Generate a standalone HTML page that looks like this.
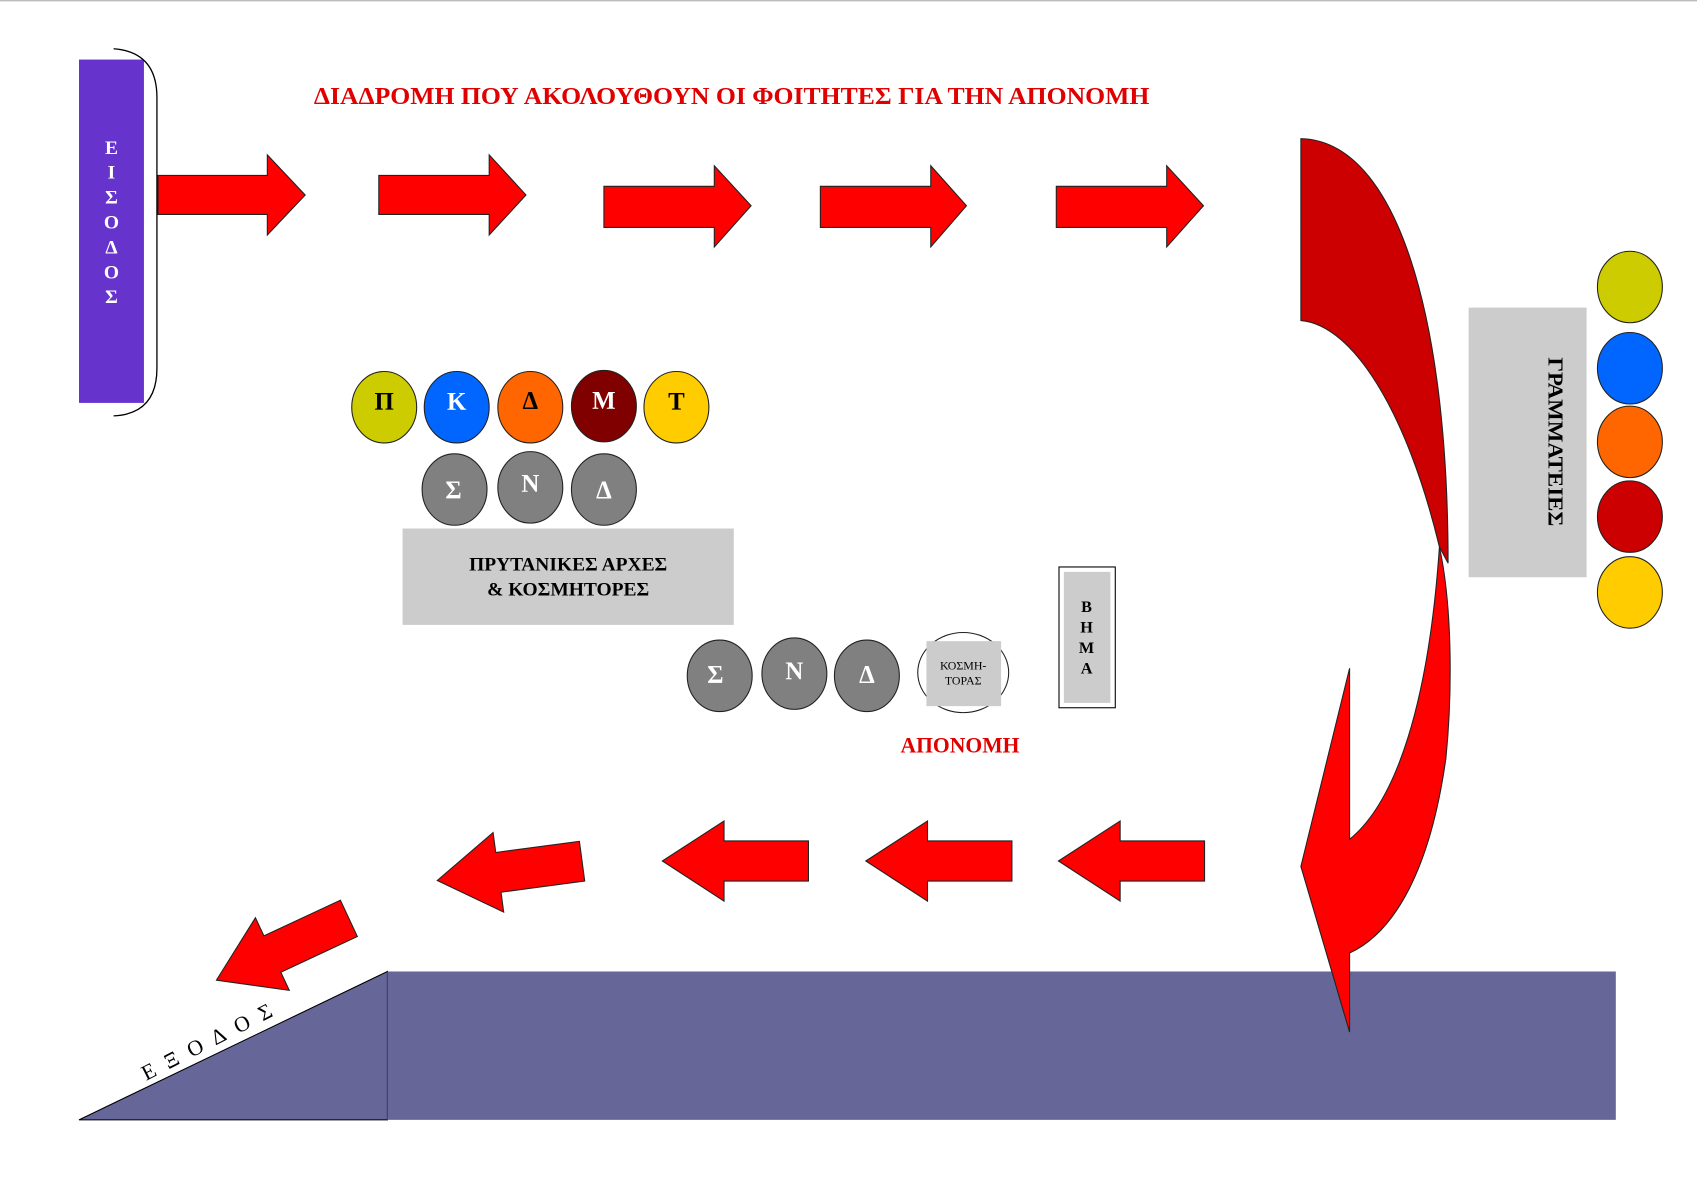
<!DOCTYPE html>
<html><head><meta charset="utf-8"><style>
html,body{margin:0;padding:0;background:#fff;}
svg{display:block;}
text{font-family:"Liberation Serif","DejaVu Serif",serif;font-weight:bold;}
</style></head><body>
<svg width="1697" height="1200" viewBox="0 0 1568 1108" xmlns="http://www.w3.org/2000/svg" preserveAspectRatio="none">
<defs>
<path id="la" d="M0,0 L57,-37 L57,-18.5 L135,-18.5 L135,18.5 L57,18.5 L57,37 Z"/>
</defs>
<line x1="0" y1="0.5" x2="1568" y2="0.5" stroke="#bbb" stroke-width="1.5"/>
<!-- floor -->
<rect x="358" y="897" width="1135" height="137" fill="#666699"/>
<path d="M73,1034 L358,897 L358,1034 Z" fill="#666699" stroke="#000" stroke-width="1"/>
<line x1="358" y1="897" x2="358" y2="1034" stroke="#555" stroke-width="0.8"/>
<text transform="translate(135,998) rotate(-27)" font-size="20" fill="#000" style="font-weight:normal" letter-spacing="11">ΕΞΟΔΟΣ</text>
<!-- entrance -->
<rect x="73" y="55" width="60" height="317" fill="#6633cc"/>
<path d="M105,45 Q145,48 145,90 L145,340 Q145,382 105,384" fill="none" stroke="#000" stroke-width="1.2"/>
<g fill="#fff" font-size="18" text-anchor="middle">
<text x="103" y="142">Ε</text><text x="103" y="165">Ι</text><text x="103" y="188">Σ</text><text x="103" y="211">Ο</text><text x="103" y="234">Δ</text><text x="103" y="257">Ο</text><text x="103" y="280">Σ</text>
</g>
<text x="290" y="96" fill="#e00000" font-size="22" textLength="772" lengthAdjust="spacingAndGlyphs">ΔΙΑΔΡΟΜΗ ΠΟΥ ΑΚΟΛΟΥΘΟΥΝ ΟΙ ΦΟΙΤΗΤΕΣ ΓΙΑ ΤΗΝ ΑΠΟΝΟΜΗ</text>
<!-- right arrows -->
<g fill="#ff0000" stroke="#222" stroke-width="1">
<path d="M146,162 L247,162 L247,143 L282,180 L247,217 L247,198 L146,198 Z"/>
<path d="M350,162 L452,162 L452,143 L486,180 L452,217 L452,198 L350,198 Z"/>
<path d="M558,172 L660,172 L660,153 L694,190 L660,228 L660,210 L558,210 Z"/>
<path d="M758,172 L860,172 L860,153 L893,190 L860,228 L860,210 L758,210 Z"/>
<path d="M976,172 L1078,172 L1078,153 L1112,190 L1078,228 L1078,210 L976,210 Z"/>
</g>
<!-- curved arrow -->
<path d="M1202,128 C1290,130 1338,290 1338,520 L1330,505 C1300,380 1250,300 1202,296 Z" fill="#cc0000" stroke="#222" stroke-width="1"/>
<path d="M1330,505 C1342,560 1342,640 1336,700 C1322,800 1290,860 1247,880 L1247,953 L1202,800 L1247,617 L1247,775 C1290,740 1320,650 1330,505 Z" fill="#ff0000" stroke="#222" stroke-width="1"/>
<!-- grammateies -->
<rect x="1357" y="284" width="109" height="249" fill="#cccccc"/>
<text transform="translate(1431,330) rotate(90)" font-size="19" fill="#000" textLength="156" lengthAdjust="spacingAndGlyphs">ΓΡΑΜΜΑΤΕΙΕΣ</text>
<g stroke="#222" stroke-width="1">
<ellipse cx="1506" cy="265" rx="30" ry="33" fill="#cccc00"/>
<ellipse cx="1506" cy="340" rx="30" ry="33" fill="#0066ff"/>
<ellipse cx="1506" cy="408" rx="30" ry="33" fill="#ff6600"/>
<ellipse cx="1506" cy="477" rx="30" ry="33" fill="#cc0000"/>
<ellipse cx="1506" cy="547" rx="30" ry="33" fill="#ffcc00"/>
<ellipse cx="355" cy="376" rx="30" ry="33" fill="#cccc00"/>
<ellipse cx="422" cy="376" rx="30" ry="33" fill="#0066ff"/>
<ellipse cx="490" cy="376" rx="30" ry="33" fill="#ff6600"/>
<ellipse cx="558" cy="375" rx="30" ry="33" fill="#800000"/>
<ellipse cx="625" cy="376" rx="30" ry="33" fill="#ffcc00"/>
<ellipse cx="420" cy="452" rx="30" ry="33" fill="#808080"/>
<ellipse cx="490" cy="450" rx="30" ry="33" fill="#808080"/>
<ellipse cx="558" cy="452" rx="30" ry="33" fill="#808080"/>
<ellipse cx="665" cy="624" rx="30" ry="33" fill="#808080"/>
<ellipse cx="734" cy="622" rx="30" ry="33" fill="#808080"/>
<ellipse cx="801" cy="624" rx="30" ry="33" fill="#808080"/>
<ellipse cx="890" cy="621" rx="42" ry="37" fill="#fff"/>
</g>
<g font-size="23" text-anchor="middle">
<text x="355" y="378" fill="#000">Π</text><text x="422" y="378" fill="#fff">Κ</text><text x="490" y="377" fill="#000">Δ</text><text x="558" y="377" fill="#fff">Μ</text><text x="625" y="378" fill="#000">Τ</text>
<text x="419" y="460" fill="#fff">Σ</text><text x="490" y="454" fill="#fff">Ν</text><text x="558" y="460" fill="#fff">Δ</text>
<text x="661" y="630" fill="#fff">Σ</text><text x="734" y="627" fill="#fff">Ν</text><text x="801" y="630" fill="#fff">Δ</text>
</g>
<rect x="372" y="488" width="306" height="89" fill="#cccccc"/>
<g font-size="18" text-anchor="middle" fill="#000">
<text x="525" y="527">ΠΡΥΤΑΝΙΚΕΣ ΑΡΧΕΣ</text>
<text x="525" y="550">&amp; ΚΟΣΜΗΤΟΡΕΣ</text>
</g>
<rect x="856" y="592" width="69" height="60" fill="#cccccc"/>
<g font-size="11" text-anchor="middle" fill="#000">
<text x="890" y="618" style="font-weight:normal">ΚΟΣΜΗ-</text>
<text x="890" y="632" style="font-weight:normal">ΤΟΡΑΣ</text>
</g>
<rect x="978.5" y="523.5" width="52" height="130" fill="#fff" stroke="#000" stroke-width="1"/>
<rect x="983" y="528" width="43" height="121" fill="#cccccc"/>
<g font-size="15" text-anchor="middle" fill="#000">
<text x="1004" y="565">Β</text><text x="1004" y="584">Η</text><text x="1004" y="603">Μ</text><text x="1004" y="622">Α</text>
</g>
<text x="887" y="695" fill="#e00000" font-size="20" text-anchor="middle">ΑΠΟΝΟΜΗ</text>
<!-- left arrows -->
<g fill="#ff0000" stroke="#222" stroke-width="1">
<use href="#la" transform="translate(978,795)"/>
<use href="#la" transform="translate(800,795)"/>
<use href="#la" transform="translate(612,795)"/>
<use href="#la" transform="translate(404,813) rotate(-7.6)"/>
<use href="#la" transform="translate(200,905) rotate(-25)"/>
</g>
</svg>
</body></html>
